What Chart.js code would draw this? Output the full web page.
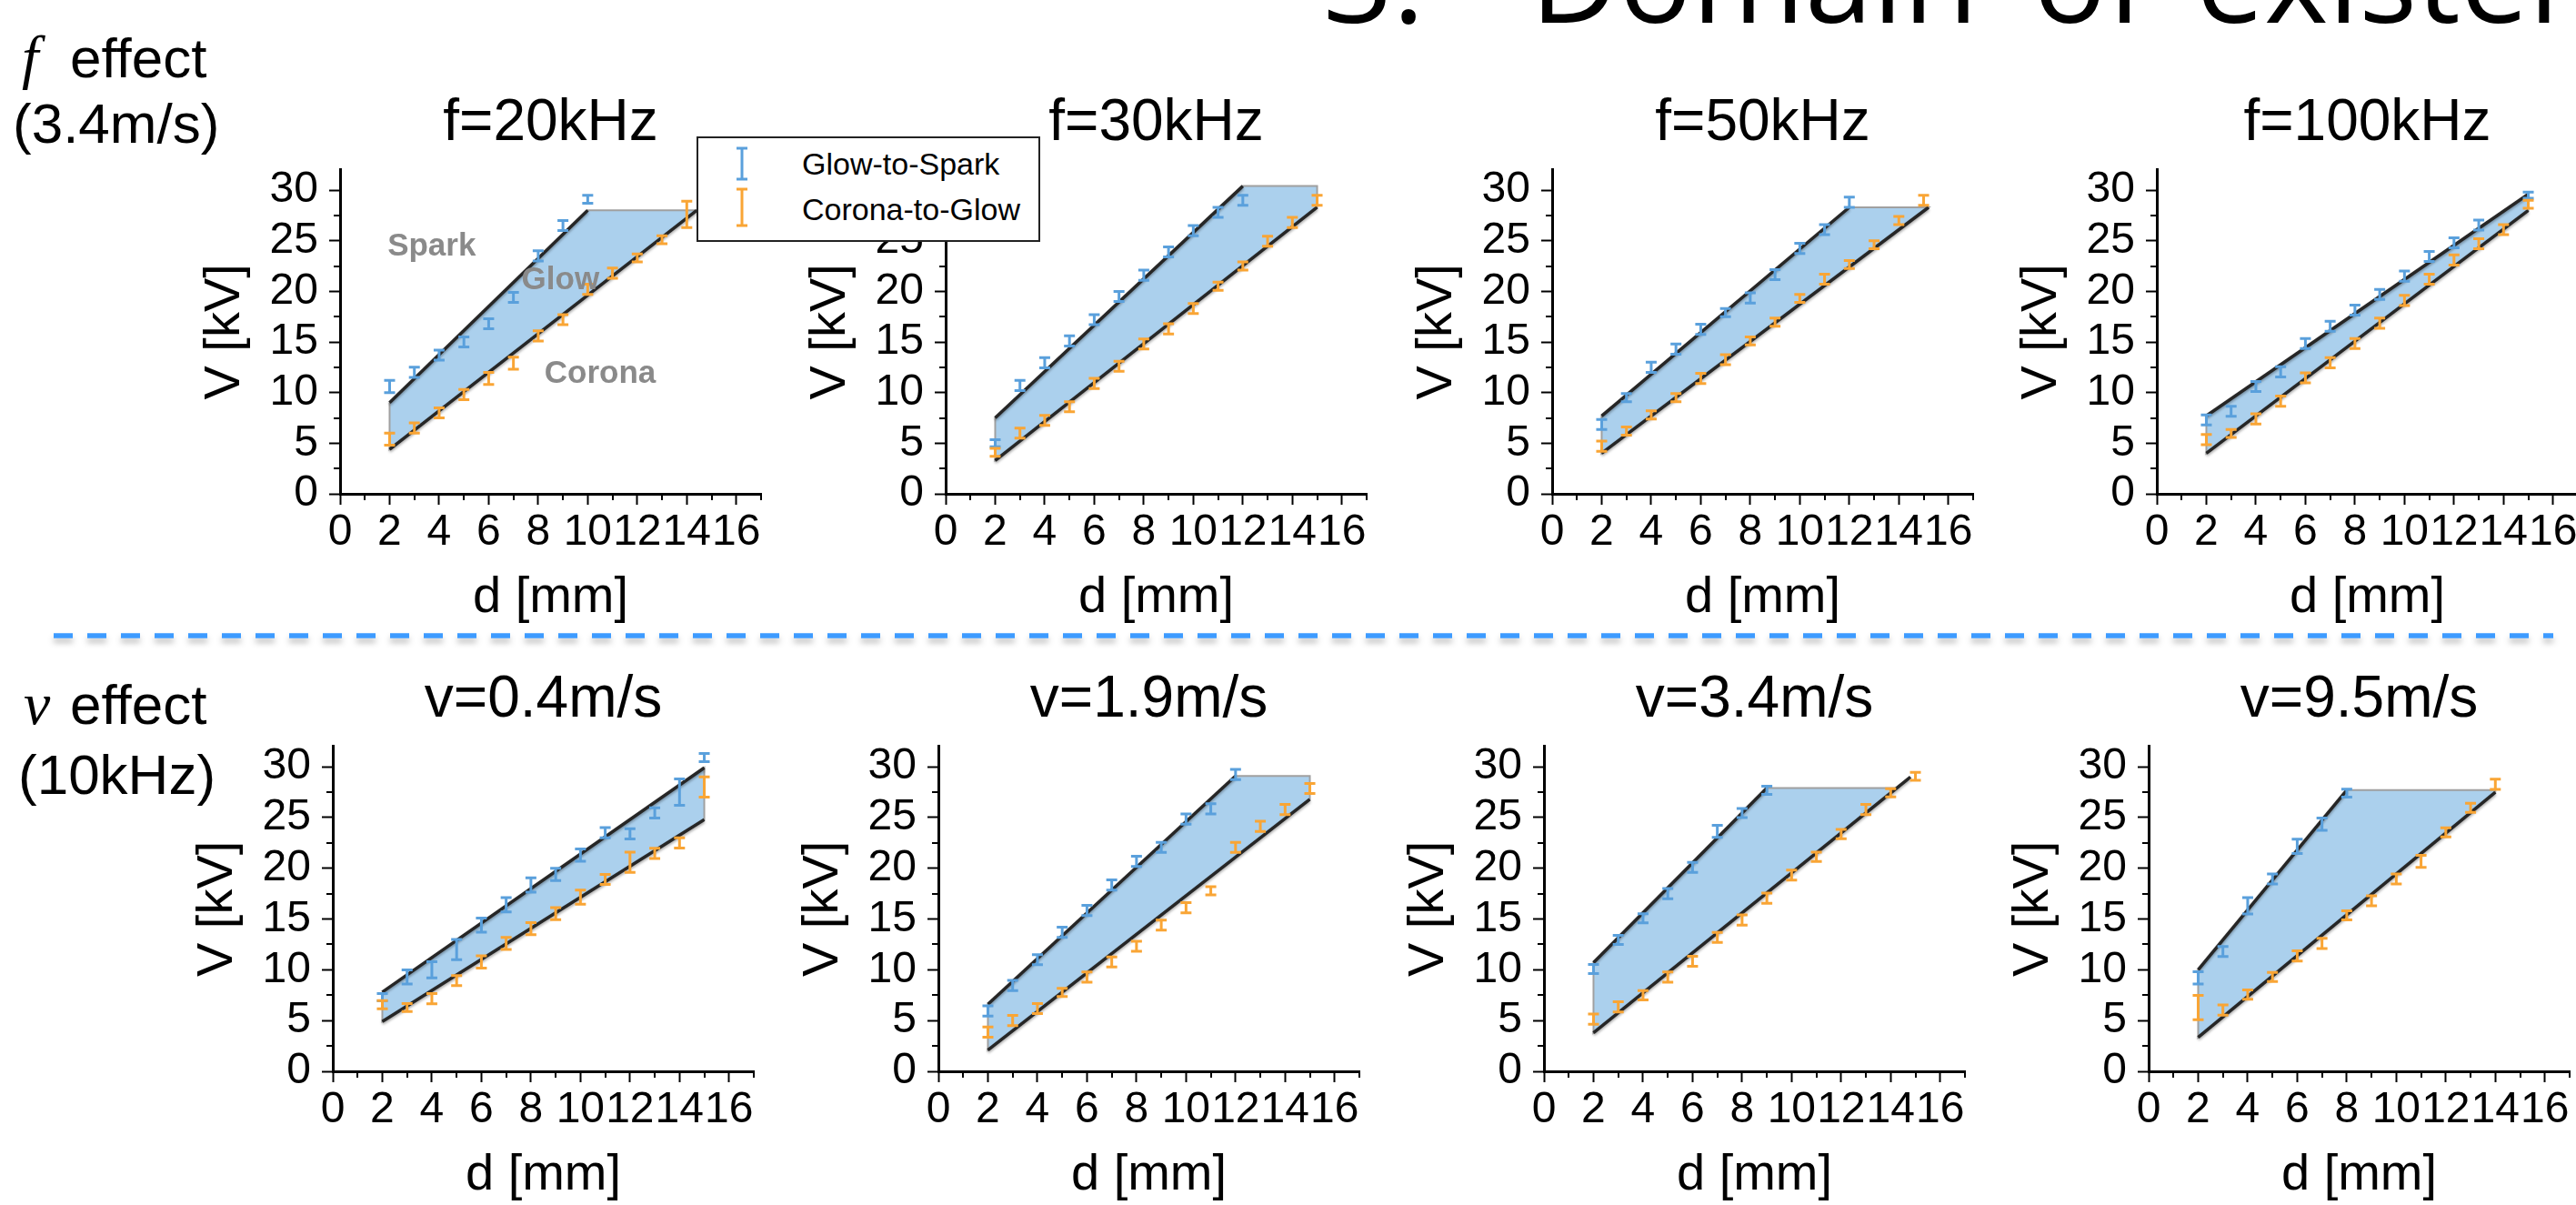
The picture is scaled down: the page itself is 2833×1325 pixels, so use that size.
<!DOCTYPE html>
<html>
<head>
<meta charset="utf-8">
<script src="https://cdn.jsdelivr.net/npm/chart.js@4.4.1/dist/chart.umd.min.js"></script>
<style>
  html, body { margin: 0; padding: 0; background: #fff; overflow: hidden; }
  #page { position: relative; width: 2833px; height: 1325px; overflow: hidden; background: #fff; }
  #page canvas { position: absolute; z-index: 1; }
  #deco { position: absolute; left: 0; top: 0; z-index: 2; pointer-events: none; }
</style>
</head>
<body>
<div id="page">
  <svg id="deco" width="2833" height="1325" xmlns="http://www.w3.org/2000/svg">
    <defs>
      <filter id="dashShadow" filterUnits="userSpaceOnUse" x="0" y="680" width="2833" height="45">
        <feDropShadow dx="0" dy="5" stdDeviation="3" flood-color="#000" flood-opacity="0.25"/>
      </filter>
    </defs>
    <!-- slide heading, cut off at the top edge -->
    <g font-family="'Open Sans', 'Noto Sans', sans-serif" font-size="134" fill="#000">
      <text x="1455" y="25">3.</text>
      <text x="1683" y="25">Domain</text>
      <text x="2236" y="25">of</text>
      <text x="2415" y="25">existence</text>
    </g>
    <!-- row labels -->
    <g font-family="'Liberation Sans', Arial, sans-serif" font-size="62" fill="#000">
      <text x="24" y="85" font-family="'Liberation Serif', serif" font-style="italic" font-size="66">f</text>
      <text x="77" y="85">effect</text>
      <text x="14" y="157">(3.4m/s)</text>
      <text x="26" y="796" font-family="'Liberation Serif', serif" font-style="italic" font-size="66">v</text>
      <text x="77" y="796">effect</text>
      <text x="20" y="873">(10kHz)</text>
    </g>
    <!-- separator -->
    <line x1="59" y1="699" x2="2808" y2="699" stroke="#3d9bff" stroke-width="5.5" stroke-dasharray="21 16" filter="url(#dashShadow)"/>
    <!-- legend -->
    <rect x="767" y="151" width="376" height="114" fill="#fff" stroke="#222" stroke-width="2"/>
    <g stroke="#5aa0dc" stroke-width="3" fill="none">
      <line x1="816" y1="163" x2="816" y2="197"/>
      <line x1="810" y1="163" x2="822" y2="163"/>
      <line x1="810" y1="197" x2="822" y2="197"/>
    </g>
    <g stroke="#f9a535" stroke-width="3" fill="none">
      <line x1="816" y1="208" x2="816" y2="248"/>
      <line x1="810" y1="208" x2="822" y2="208"/>
      <line x1="810" y1="248" x2="822" y2="248"/>
    </g>
    <g font-family="'Liberation Sans', Arial, sans-serif" font-size="34" fill="#000">
      <text x="882" y="192">Glow-to-Spark</text>
      <text x="882" y="242">Corona-to-Glow</text>
    </g>
  </svg>
</div>
<script>
// Domain of existence: glow-to-spark and corona-to-glow voltages vs gap distance

const panelTitles = ['f=20kHz', 'f=30kHz', 'f=50kHz', 'f=100kHz', 'v=0.4m/s', 'v=1.9m/s', 'v=3.4m/s', 'v=9.5m/s'];

// ---- f = 20 kHz ----
const gsD_f20 = [2, 3, 4, 5, 6, 7, 8, 9, 10];
const gsV_f20 = [10.6, 12.0, 13.7, 15.0, 16.8, 19.4, 23.5, 26.5, 29.1];
const gsE_f20 = [0.6, 0.5, 0.5, 0.5, 0.5, 0.5, 0.5, 0.5, 0.4];
const cgD_f20 = [2, 3, 4, 5, 6, 7, 8, 9, 10, 11, 12, 13, 14];
const cgV_f20 = [5.4, 6.5, 8.0, 9.8, 11.4, 12.9, 15.6, 17.2, 20.2, 21.8, 23.3, 25.1, 27.6];
const cgE_f20 = [0.6, 0.5, 0.5, 0.5, 0.6, 0.6, 0.5, 0.5, 0.5, 0.5, 0.4, 0.4, 1.3];
const bandX_f20 = [2, 10, 14.4, 2];
const bandY_f20 = [9.0, 28.0, 28.0, 4.4];
const upX_f20 = [2, 10], upY_f20 = [9.0, 28.0];
const loX_f20 = [2, 14.4], loY_f20 = [4.4, 28.0];

// ---- f = 30 kHz ----
const gsD_f30 = [2, 3, 4, 5, 6, 7, 8, 9, 10, 11, 12];
const gsV_f30 = [5.0, 10.7, 12.95, 15.1, 17.2, 19.5, 21.6, 23.9, 26.0, 27.8, 29.0];
const gsE_f30 = [0.35, 0.5, 0.5, 0.5, 0.5, 0.5, 0.5, 0.5, 0.5, 0.5, 0.5];
const cgD_f30 = [2, 3, 4, 5, 6, 7, 8, 9, 10, 11, 12, 13, 14, 15];
const cgV_f30 = [4.1, 6.0, 7.25, 8.6, 10.9, 12.6, 14.8, 16.3, 18.3, 20.5, 22.5, 24.95, 26.8, 29.0];
const cgE_f30 = [0.4, 0.5, 0.5, 0.5, 0.5, 0.5, 0.5, 0.5, 0.5, 0.4, 0.4, 0.5, 0.5, 0.5];
const bandX_f30 = [2, 12, 15, 15, 2];
const bandY_f30 = [7.5, 30.4, 30.4, 28.3, 3.3];
const upX_f30 = [2, 12], upY_f30 = [7.5, 30.4];
const loX_f30 = [2, 15], loY_f30 = [3.3, 28.3];

// ---- f = 50 kHz ----
const gsD_f50 = [2, 3, 4, 5, 6, 7, 8, 9, 10, 11, 12];
const gsV_f50 = [6.85, 9.5, 12.5, 14.3, 16.25, 17.9, 19.35, 21.65, 24.25, 26.1, 28.8];
const gsE_f50 = [0.5, 0.4, 0.5, 0.5, 0.5, 0.4, 0.5, 0.5, 0.5, 0.5, 0.5];
const cgD_f50 = [2, 3, 4, 5, 6, 7, 8, 9, 10, 11, 12, 13, 14, 15];
const cgV_f50 = [4.7, 6.2, 7.8, 9.5, 11.4, 13.25, 15.1, 16.95, 19.3, 21.2, 22.65, 24.6, 27.0, 29.0];
const cgE_f50 = [0.5, 0.4, 0.4, 0.4, 0.5, 0.5, 0.4, 0.4, 0.4, 0.5, 0.4, 0.4, 0.4, 0.5];
const bandX_f50 = [2, 12, 15.2, 2];
const bandY_f50 = [7.7, 28.3, 28.3, 4.0];
const upX_f50 = [2, 12], upY_f50 = [7.7, 28.3];
const loX_f50 = [2, 15.2], loY_f50 = [4.0, 28.3];

// ---- f = 100 kHz ----
const gsD_f100 = [2, 3, 4, 5, 6, 7, 8, 9, 10, 11, 12, 13, 15];
const gsV_f100 = [7.3, 8.15, 10.6, 12.05, 14.85, 16.55, 18.15, 19.7, 21.5, 23.45, 24.8, 26.55, 29.5];
const gsE_f100 = [0.5, 0.5, 0.5, 0.5, 0.5, 0.5, 0.5, 0.5, 0.5, 0.5, 0.5, 0.5, 0.3];
const cgD_f100 = [2, 3, 4, 5, 6, 7, 8, 9, 10, 11, 12, 13, 14, 15];
const cgV_f100 = [5.36, 5.96, 7.4, 9.15, 11.45, 12.95, 14.85, 16.85, 19.1, 21.2, 23.1, 24.7, 26.1, 28.6];
const cgE_f100 = [0.5, 0.4, 0.5, 0.5, 0.5, 0.5, 0.5, 0.5, 0.5, 0.5, 0.5, 0.5, 0.5, 0.4];
const bandX_f100 = [2, 15, 15, 2];
const bandY_f100 = [7.7, 29.6, 28.0, 4.0];
const upX_f100 = [2, 15], upY_f100 = [7.7, 29.6];
const loX_f100 = [2, 15], loY_f100 = [4.0, 28.0];

// ---- v = 0.4 m/s ----
const gsD_v04 = [2, 3, 4, 5, 6, 7, 8, 9, 10, 11, 12, 13, 14, 15];
const gsV_v04 = [7.3, 9.3, 10.0, 12.0, 14.4, 16.4, 18.35, 19.4, 21.3, 23.5, 23.4, 25.45, 27.5, 30.9];
const gsE_v04 = [0.35, 0.7, 0.8, 1.0, 0.7, 0.7, 0.7, 0.6, 0.6, 0.5, 0.5, 0.5, 1.3, 0.4];
const cgD_v04 = [2, 3, 4, 5, 6, 7, 8, 9, 10, 11, 12, 13, 14, 15];
const cgV_v04 = [6.56, 6.28, 7.15, 8.94, 10.77, 12.6, 14.05, 15.53, 17.16, 18.9, 20.6, 21.47, 22.5, 28.0];
const cgE_v04 = [0.4, 0.4, 0.5, 0.5, 0.6, 0.6, 0.6, 0.6, 0.7, 0.5, 1.0, 0.5, 0.5, 1.0];
const bandX_v04 = [2, 15, 15, 2];
const bandY_v04 = [7.8, 29.9, 24.8, 4.9];
const upX_v04 = [2, 15], upY_v04 = [7.8, 29.9];
const loX_v04 = [2, 15], loY_v04 = [4.9, 24.8];

// ---- v = 1.9 m/s ----
const gsD_v19 = [2, 3, 4, 5, 6, 7, 8, 9, 10, 11, 12];
const gsV_v19 = [5.94, 8.46, 11.0, 13.7, 15.85, 18.36, 20.68, 22.06, 24.85, 25.85, 29.24];
const gsE_v19 = [0.5, 0.5, 0.5, 0.5, 0.5, 0.5, 0.5, 0.5, 0.5, 0.5, 0.5];
const cgD_v19 = [2, 3, 4, 5, 6, 7, 8, 9, 10, 11, 12, 13, 14, 15];
const cgV_v19 = [3.87, 5.0, 6.18, 7.77, 9.29, 10.77, 12.32, 14.4, 16.12, 17.78, 22.06, 24.13, 25.79, 27.86];
const cgE_v19 = [0.5, 0.5, 0.5, 0.4, 0.5, 0.5, 0.5, 0.5, 0.5, 0.4, 0.5, 0.5, 0.5, 0.5];
const bandX_v19 = [2, 12, 15, 15, 2];
const bandY_v19 = [6.6, 29.1, 29.1, 26.8, 2.1];
const upX_v19 = [2, 12], upY_v19 = [6.6, 29.1];
const loX_v19 = [2, 15], loY_v19 = [2.1, 26.8];

// ---- v = 3.4 m/s ----
const gsD_v34 = [2, 3, 4, 5, 6, 7, 8, 9];
const gsV_v34 = [10.08, 12.94, 15.08, 17.5, 20.09, 23.64, 25.44, 27.68];
const gsE_v34 = [0.45, 0.45, 0.45, 0.5, 0.5, 0.6, 0.45, 0.4];
const cgD_v34 = [2, 3, 4, 5, 6, 7, 8, 9, 10, 11, 12, 13, 14, 15];
const cgV_v34 = [5.14, 6.35, 7.49, 9.29, 10.84, 13.19, 14.91, 17.05, 19.33, 21.13, 23.37, 25.79, 27.44, 29.06];
const cgE_v34 = [0.5, 0.5, 0.45, 0.5, 0.5, 0.5, 0.5, 0.5, 0.5, 0.45, 0.45, 0.5, 0.4, 0.4];
const bandX_v34 = [2, 9, 14.2, 2];
const bandY_v34 = [10.7, 27.9, 27.9, 3.8];
const upX_v34 = [2, 9], upY_v34 = [10.7, 27.9];
const loX_v34 = [2, 14.8], loY_v34 = [3.8, 29.0];

// ---- v = 9.5 m/s ----
const gsD_v95 = [2, 3, 4, 5, 6, 7, 8];
const gsV_v95 = [9.2, 11.8, 16.3, 18.95, 22.16, 24.34, 27.4];
const gsE_v95 = [0.6, 0.5, 0.8, 0.5, 0.7, 0.6, 0.4];
const cgD_v95 = [2, 3, 4, 5, 6, 7, 8, 9, 10, 11, 12, 13, 14];
const cgV_v95 = [6.28, 6.04, 7.56, 9.29, 11.36, 12.6, 15.36, 16.8, 18.95, 20.68, 23.54, 25.96, 28.27];
const cgE_v95 = [1.2, 0.5, 0.45, 0.45, 0.5, 0.5, 0.45, 0.5, 0.5, 0.6, 0.45, 0.45, 0.5];
const bandX_v95 = [2, 8, 14, 14, 2];
const bandY_v95 = [10.0, 27.7, 27.7, 27.5, 3.35];
const upX_v95 = [2, 8], upY_v95 = [10.0, 27.7];
const loX_v95 = [2, 14], loY_v95 = [3.35, 27.5];

// region names written inside the 20 kHz panel
const regionNames = ['Spark', 'Glow', 'Corona'];
const regionD = [3.7, 8.9, 10.5];
const regionV = [24.4, 21.05, 11.8];

const panels = [
    { gsD: gsD_f20, gsV: gsV_f20, gsE: gsE_f20, cgD: cgD_f20, cgV: cgV_f20, cgE: cgE_f20, bX: bandX_f20, bY: bandY_f20, uX: upX_f20, uY: upY_f20, lX: loX_f20, lY: loY_f20 },
    { gsD: gsD_f30, gsV: gsV_f30, gsE: gsE_f30, cgD: cgD_f30, cgV: cgV_f30, cgE: cgE_f30, bX: bandX_f30, bY: bandY_f30, uX: upX_f30, uY: upY_f30, lX: loX_f30, lY: loY_f30 },
    { gsD: gsD_f50, gsV: gsV_f50, gsE: gsE_f50, cgD: cgD_f50, cgV: cgV_f50, cgE: cgE_f50, bX: bandX_f50, bY: bandY_f50, uX: upX_f50, uY: upY_f50, lX: loX_f50, lY: loY_f50 },
    { gsD: gsD_f100, gsV: gsV_f100, gsE: gsE_f100, cgD: cgD_f100, cgV: cgV_f100, cgE: cgE_f100, bX: bandX_f100, bY: bandY_f100, uX: upX_f100, uY: upY_f100, lX: loX_f100, lY: loY_f100 },
    { gsD: gsD_v04, gsV: gsV_v04, gsE: gsE_v04, cgD: cgD_v04, cgV: cgV_v04, cgE: cgE_v04, bX: bandX_v04, bY: bandY_v04, uX: upX_v04, uY: upY_v04, lX: loX_v04, lY: loY_v04 },
    { gsD: gsD_v19, gsV: gsV_v19, gsE: gsE_v19, cgD: cgD_v19, cgV: cgV_v19, cgE: cgE_v19, bX: bandX_v19, bY: bandY_v19, uX: upX_v19, uY: upY_v19, lX: loX_v19, lY: loY_v19 },
    { gsD: gsD_v34, gsV: gsV_v34, gsE: gsE_v34, cgD: cgD_v34, cgV: cgV_v34, cgE: cgE_v34, bX: bandX_v34, bY: bandY_v34, uX: upX_v34, uY: upY_v34, lX: loX_v34, lY: loY_v34 },
    { gsD: gsD_v95, gsV: gsV_v95, gsE: gsE_v95, cgD: cgD_v95, cgV: cgV_v95, cgE: cgE_v95, bX: bandX_v95, bY: bandY_v95, uX: upX_v95, uY: upY_v95, lX: loX_v95, lY: loY_v95 }
];

const FONT = "'Liberation Sans', Arial, Helvetica, sans-serif";
const BLUE = '#5aa0dc';
const ORANGE = '#f9a535';
const BAND = 'rgba(150, 196, 232, 0.8)';
const CAP = 6;

// page placement (pixels): y-axis position of each panel, and row tops
const axisLeft = [374, 1040, 1707, 2372, 366, 1032, 1698, 2363];
const rowTop = [88, 722];
const rowAxisY = [543, 1178];
const YSCALE_W = 180;
const XSCALE_H = 150;
const PLOT_W = 463;
const PAD_R = 20;

Chart.defaults.font.family = FONT;

// error bars ("I" markers) drawn from the datasets through the scales
const errorBarPlugin = {
    id: 'errorBars',
    afterDatasetsDraw(chart) {
        const { ctx } = chart;
        const xs = chart.scales.x, ys = chart.scales.y;
        ctx.save();
        chart.data.datasets.forEach(ds => {
            if (!ds.errs) return;
            ctx.strokeStyle = ds.errColor;
            ctx.lineWidth = 3;
            ds.data.forEach((pt, k) => {
                const px = xs.getPixelForValue(pt.x);
                const yTop = ys.getPixelForValue(pt.y + ds.errs[k]);
                const yBot = ys.getPixelForValue(pt.y - ds.errs[k]);
                ctx.beginPath();
                ctx.moveTo(px, yTop); ctx.lineTo(px, yBot);
                ctx.moveTo(px - CAP, yTop); ctx.lineTo(px + CAP, yTop);
                ctx.moveTo(px - CAP, yBot); ctx.lineTo(px + CAP, yBot);
                ctx.stroke();
            });
        });
        ctx.restore();
    }
};

// soft shadow under the two boundary lines
const lineShadowPlugin = {
    id: 'lineShadow',
    beforeDatasetDraw(chart, args) {
        if (!args.meta._dataset.shadow) return;
        const { ctx } = chart;
        ctx.save();
        ctx.shadowColor = 'rgba(0, 0, 0, 0.35)';
        ctx.shadowBlur = 3;
        ctx.shadowOffsetY = 2;
    },
    afterDatasetDraw(chart, args) {
        if (!args.meta._dataset.shadow) return;
        chart.ctx.restore();
    }
};

// minor ticks between the labelled ones
const minorTickPlugin = {
    id: 'minorTicks',
    afterDraw(chart) {
        const { ctx, chartArea } = chart;
        const xs = chart.scales.x, ys = chart.scales.y;
        ctx.save();
        ctx.strokeStyle = '#000';
        ctx.lineWidth = 2;
        ctx.beginPath();
        for (let v = 1; v <= 17; v += 2) {
            const px = Math.round(xs.getPixelForValue(v));
            ctx.moveTo(px, chartArea.bottom);
            ctx.lineTo(px, chartArea.bottom + 7);
        }
        for (let v = 2.5; v < 30; v += 5) {
            const py = Math.round(ys.getPixelForValue(v));
            ctx.moveTo(chartArea.left, py);
            ctx.lineTo(chartArea.left - 7, py);
        }
        ctx.stroke();
        ctx.restore();
    }
};

// "Spark / Glow / Corona" words, anchored to data coordinates
const regionLabelPlugin = {
    id: 'regionLabels',
    afterDatasetsDraw(chart, args, opts) {
        if (!opts || !opts.names) return;
        const { ctx } = chart;
        const xs = chart.scales.x, ys = chart.scales.y;
        ctx.save();
        ctx.fillStyle = '#8a8a8a';
        ctx.font = 'bold 35px ' + FONT;
        ctx.textAlign = 'center';
        ctx.textBaseline = 'middle';
        opts.names.forEach((name, k) => {
            ctx.fillText(name, xs.getPixelForValue(opts.xs[k]), ys.getPixelForValue(opts.ys[k]));
        });
        ctx.restore();
    }
};

function toPoints(xs, ys) {
    return xs.map((x, k) => ({ x: x, y: ys[k] }));
}

function makePanel(i) {
    const p = panels[i];
    const row = i < 4 ? 0 : 1;
    const left = axisLeft[i] - YSCALE_W;
    const top = rowTop[row];
    const w = YSCALE_W + PLOT_W + PAD_R;
    const h = rowAxisY[row] + XSCALE_H - top;

    const canvas = document.createElement('canvas');
    canvas.width = w;
    canvas.height = h;
    canvas.style.left = left + 'px';
    canvas.style.top = top + 'px';
    canvas.style.width = w + 'px';
    canvas.style.height = h + 'px';
    document.getElementById('page').appendChild(canvas);

    const bandPts = toPoints(p.bX, p.bY);
    bandPts.push(bandPts[0]); // close the outline

    new Chart(canvas.getContext('2d'), {
        type: 'line',
        data: {
            datasets: [
                { label: 'Glow-to-Spark', data: toPoints(p.gsD, p.gsV), errs: p.gsE, errColor: BLUE, showLine: false, pointRadius: 0 },
                { label: 'Corona-to-Glow', data: toPoints(p.cgD, p.cgV), errs: p.cgE, errColor: ORANGE, showLine: false, pointRadius: 0 },
                { label: 'upper', data: toPoints(p.uX, p.uY), shadow: true, borderColor: '#262626', borderWidth: 3.5, pointRadius: 0, fill: false, tension: 0 },
                { label: 'lower', data: toPoints(p.lX, p.lY), shadow: true, borderColor: '#262626', borderWidth: 3.5, pointRadius: 0, fill: false, tension: 0 },
                { label: 'glow domain', data: bandPts, borderColor: '#a0a0a0', borderWidth: 2, backgroundColor: BAND, fill: 'shape', pointRadius: 0, tension: 0 }
            ]
        },
        options: {
            responsive: false,
            animation: false,
            events: [],
            layout: { padding: { left: 0, right: PAD_R, top: 0, bottom: 0 } },
            plugins: {
                legend: { display: false },
                tooltip: { enabled: false },
                title: {
                    display: true,
                    text: panelTitles[i],
                    fullSize: false,
                    color: '#000',
                    font: { family: FONT, size: 64, weight: 'normal' },
                    padding: { top: 10, bottom: 12 }
                },
                regionLabels: i === 0 ? { names: regionNames, xs: regionD, ys: regionV } : {}
            },
            scales: {
                x: {
                    type: 'linear',
                    min: 0,
                    max: 17,
                    afterFit: s => { s.height = XSCALE_H; },
                    border: { display: true, color: '#000', width: 3 },
                    grid: { drawOnChartArea: false, drawTicks: true, tickLength: 12, tickColor: '#000', tickWidth: 2 },
                    ticks: {
                        stepSize: 2, includeBounds: false, autoSkip: false, maxRotation: 0, minRotation: 0,
                        color: '#000', font: { family: FONT, size: 48 }, padding: 2
                    },
                    title: { display: true, text: 'd [mm]', color: '#000', font: { family: FONT, size: 56 }, padding: { top: 0, bottom: 2 } }
                },
                y: {
                    min: 0,
                    max: 32,
                    afterFit: s => { s.width = YSCALE_W; },
                    border: { display: true, color: '#000', width: 3 },
                    grid: { drawOnChartArea: false, drawTicks: true, tickLength: 12, tickColor: '#000', tickWidth: 2 },
                    ticks: {
                        stepSize: 5, includeBounds: false, autoSkip: false,
                        color: '#000', font: { family: FONT, size: 48, lineHeight: 1 }, padding: 12
                    },
                    title: { display: true, text: 'V [kV]', color: '#000', font: { family: FONT, size: 56 }, padding: { top: 20, bottom: 0 } }
                }
            }
        },
        plugins: [errorBarPlugin, lineShadowPlugin, minorTickPlugin, regionLabelPlugin]
    });
}

for (let i = 0; i < panels.length; i++) makePanel(i);
</script>
</body>
</html>
